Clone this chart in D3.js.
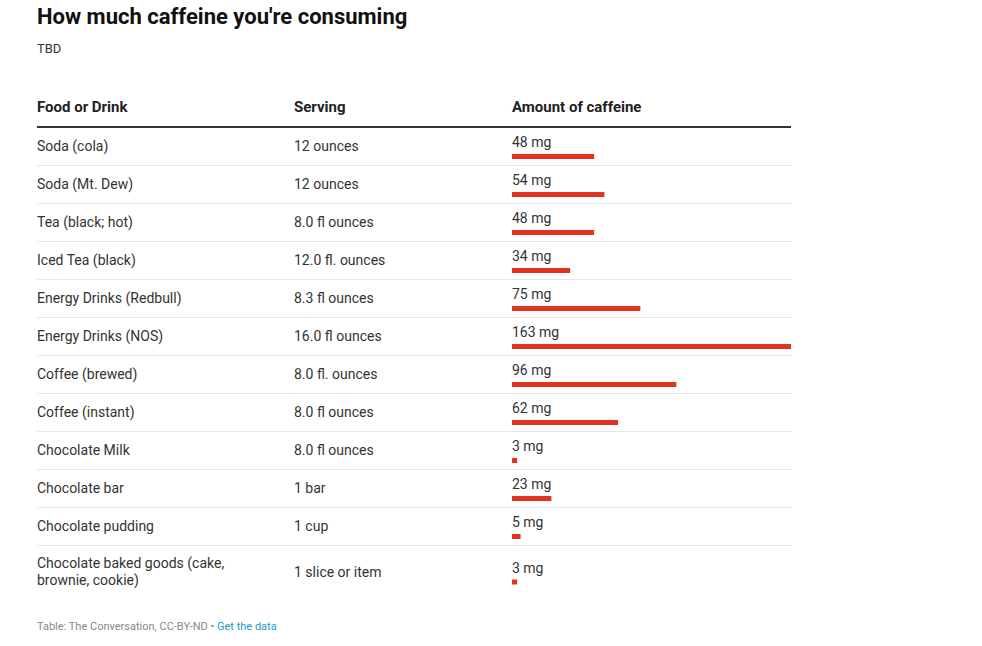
<!DOCTYPE html>
<html><head><meta charset="utf-8">
<script src="https://cdn.jsdelivr.net/npm/d3@7"></script>
<style>
body{margin:0;background:#fff;font-family:Roboto,"Noto Sans",sans-serif;}
</style></head>
<body>
<svg id="chart" width="982" height="646"></svg>
<script>
const foods = ["Soda (cola)","Soda (Mt. Dew)","Tea (black; hot)","Iced Tea (black)","Energy Drinks (Redbull)","Energy Drinks (NOS)","Coffee (brewed)","Coffee (instant)","Chocolate Milk","Chocolate bar","Chocolate pudding","Chocolate baked goods (cake, brownie, cookie)"];
const servings = ["12 ounces","12 ounces","8.0 fl ounces","12.0 fl. ounces","8.3 fl ounces","16.0 fl ounces","8.0 fl. ounces","8.0 fl ounces","8.0 fl ounces","1 bar","1 cup","1 slice or item"];
const caffeine = [48,54,48,34,75,163,96,62,3,23,5,3];
const headers = ["Food or Drink","Serving","Amount of caffeine"];
const title = "How much caffeine you're consuming";
const subtitle = "TBD";

const svg = d3.select("#chart");
const left = 37, right = 791, col2 = 294, col3 = 512;
const textColor = "#333";

svg.append("text").attr("x", left).attr("y", 24).attr("font-size", 22).attr("font-weight", 700)
  .attr("fill", "#111").text(title);
svg.append("text").attr("x", left).attr("y", 53).attr("font-size", 13).attr("fill", "#333").text(subtitle);

const headerX = [left, col2, col3];
svg.selectAll("text.hdr").data(headers).join("text").attr("class","hdr")
  .attr("x", (d,i)=>headerX[i]).attr("y", 112).attr("font-size", 15).attr("font-weight", 700)
  .attr("fill", "#222").text(d=>d);
svg.append("line").attr("x1", left).attr("x2", right).attr("y1", 127).attr("y2", 127)
  .attr("stroke", "#333").attr("stroke-width", 2);

const x = d3.scaleLinear().domain([0, d3.max(caffeine)]).range([0, right - col3]);

// wrap helper
const measure = svg.append("text").attr("font-size", 14).attr("visibility","hidden");
function wrap(str, maxW){
  const words = str.split(" "); const lines = []; let cur = "";
  words.forEach(w=>{
    const t = cur ? cur + " " + w : w;
    measure.text(t);
    if (measure.node().getComputedTextLength() > maxW && cur){ lines.push(cur); cur = w; }
    else cur = t;
  });
  if (cur) lines.push(cur);
  return lines;
}

let y0 = 127;
const lineH = 17;
foods.forEach((f,i)=>{
  const lines = wrap(f, 200);
  const h = 38 + (lines.length - 1) * 15;
  const cy = y0 + h/2 + 1;
  const g = svg.append("g");
  const t = g.append("text").attr("x", left).attr("font-size", 14).attr("fill", textColor);
  lines.forEach((l,j)=>{
    t.append("tspan").attr("x", left).attr("y", cy + 4 + (j - (lines.length-1)/2) * lineH).text(l);
  });
  g.append("text").attr("x", col2).attr("y", cy + 4).attr("font-size", 14).attr("fill", textColor).text(servings[i]);
  g.append("text").attr("x", col3).attr("y", cy).attr("font-size", 14).attr("fill", textColor).text(caffeine[i] + " mg");
  g.append("rect").attr("x", col3).attr("y", cy + 7).attr("width", x(caffeine[i])).attr("height", 5).attr("fill", "#e3321f");
  y0 += h;
  if (i < foods.length - 1)
    svg.append("line").attr("x1", left).attr("x2", right).attr("y1", y0 + 0.5).attr("y2", y0 + 0.5)
      .attr("stroke", "#e6e6e6").attr("stroke-width", 1);
});

const foot = svg.append("text").attr("x", left).attr("y", 630).attr("font-size", 11).attr("fill", "#888");
foot.append("tspan").text("Table: The Conversation, CC-BY-ND • ");
foot.append("tspan").attr("fill", "#1a9cc9").text("Get the data");
</script>
</body></html>
